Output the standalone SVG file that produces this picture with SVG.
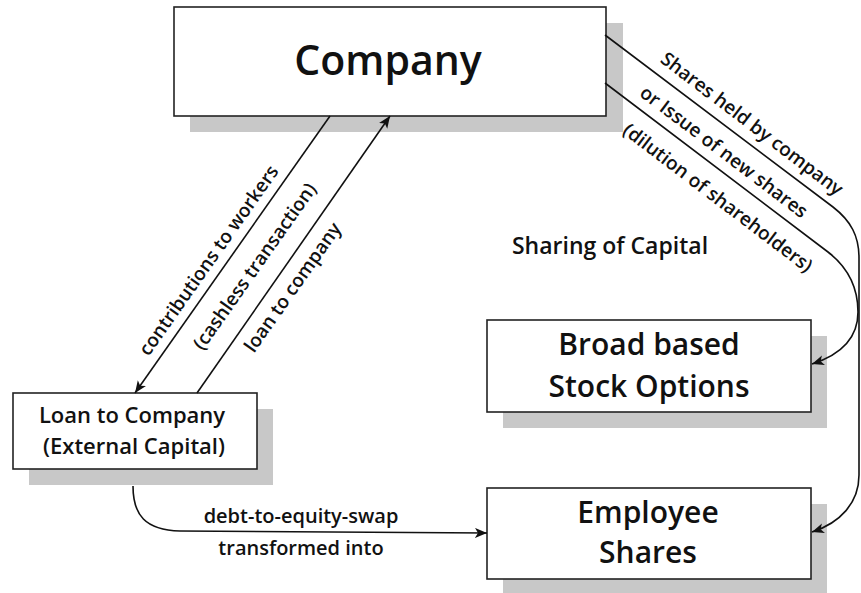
<svg xmlns="http://www.w3.org/2000/svg" width="861" height="593" viewBox="0 0 861 593">
<style>
.shadow{fill:#c8c8c8;stroke:none}
.box{fill:#fff;stroke:#222;stroke-width:1.6}
.t{font-family:"Open Sans","Noto Sans","Liberation Sans",sans-serif;font-weight:600;fill:#111;text-anchor:middle}
.lbl{font-size:19px}
.edge{fill:none;stroke:#111;stroke-width:1.6}
</style>
<defs>
<marker id="ah" markerUnits="userSpaceOnUse" markerWidth="14" markerHeight="12" refX="12" refY="5" orient="auto">
<path d="M0,0 L12,5 L0,10 L3,5 z" fill="#111"/>
</marker>
</defs>
<rect width="861" height="593" fill="#fff"/>
<g id="company">
<rect class="shadow" x="190" y="23" width="433" height="109"/>
<rect class="box" x="174" y="7" width="432" height="109"/>
<text class="t" x="388" y="75" font-size="41">Company</text>
</g>
<g id="loan">
<rect class="shadow" x="29" y="409" width="244" height="76"/>
<rect class="box" x="13" y="393" width="244" height="76"/>
<text class="t" x="132" y="423" font-size="22">Loan to Company</text>
<text class="t" x="134" y="454" font-size="22">(External Capital)</text>
</g>
<g id="broad">
<rect class="shadow" x="503" y="336" width="324" height="92"/>
<rect class="box" x="487" y="320" width="324" height="92"/>
<text class="t" x="649" y="355" font-size="30">Broad based</text>
<text class="t" x="649" y="397" font-size="30">Stock Options</text>
</g>
<g id="employee">
<rect class="shadow" x="503" y="504" width="324" height="92"/>
<rect class="box" x="487" y="488" width="324" height="91"/>
<text class="t" x="648" y="523" font-size="30">Employee</text>
<text class="t" x="648" y="563" font-size="30">Shares</text>
</g>
<g id="sharing">
<text class="t" x="610" y="254" font-size="23">Sharing of Capital</text>
</g>
<g id="connectors">
<path class="edge" d="M330,116 L135,393" marker-end="url(#ah)"/>
<path class="edge" d="M197,393 L390,116" marker-end="url(#ah)"/>
<path class="edge" d="M133,486 C133,515 145,530 180,531 L487,533" marker-end="url(#ah)"/>
<path class="edge" d="M605,35 L833,207 C851,221 859,236 859,258 L859,475 C859,503 840,523 812,532" marker-end="url(#ah)"/>
<path class="edge" d="M605,83 L828,252 C850,269 858,290 858,312 C858,338 840,355 812,364" marker-end="url(#ah)"/>
<text class="t lbl" transform="translate(214,264) rotate(-54.85)">contributions to workers</text>
<text class="t lbl" transform="translate(260,270) rotate(-54.85)">(cashless transaction)</text>
<text class="t lbl" transform="translate(298,291) rotate(-54.85)">loan to company</text>
<text class="t lbl" transform="translate(748,129) rotate(37.2)">Shares held by company</text>
<text class="t lbl" transform="translate(720,157) rotate(37.2)">or Issue of new shares</text>
<text class="t lbl" transform="translate(714,203) rotate(37.2)">(dilution of shareholders)</text>
<text class="t" font-size="20" x="301" y="523">debt-to-equity-swap</text>
<text class="t" font-size="20" x="301" y="555">transformed into</text>
</g>
</svg>
